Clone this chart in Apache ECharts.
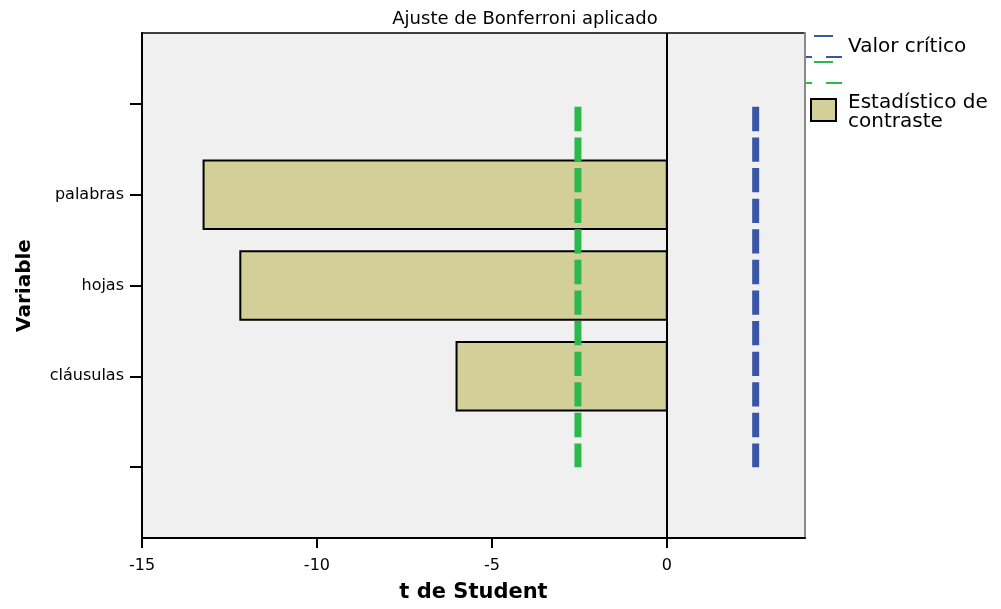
<!DOCTYPE html>
<html><head><meta charset="utf-8">
<script src="https://cdn.jsdelivr.net/npm/echarts@6/dist/echarts.min.js"></script>
<style>html,body{margin:0;padding:0;background:#fff}#c{width:1001px;height:609px}</style>
</head><body><div id="c"></div>
<script>
// ---- data ----
const categories = ['palabras', 'hojas', 'cláusulas'];
const categoryPos = [2, 3, 4];
const tStatistic = [-13.24, -12.19, -6.01];
const criticalValue = 2.54;
const xTickValues = [-15, -10, -5, 0];
const yTickPos = [1, 2, 3, 4, 5];
const critSpan = [1, 5];

const FONT = '"DejaVu Sans", sans-serif';
const BAR_H = 0.755;
const chart = echarts.init(document.getElementById('c'), null, {renderer: 'canvas'});

const barData = categoryPos.map((p, i) => [tStatistic[i], p]);

const option = {
  animation: false,
  backgroundColor: '#ffffff',
  title: {
    text: 'Ajuste de Bonferroni aplicado',
    left: 525, top: 10, padding: 0, textAlign: 'center',
    textStyle: {fontFamily: FONT, fontSize: 18, fontWeight: 'normal', color: '#000'}
  },
  grid: {
    left: 142, right: 196, top: 33, bottom: 71,
    show: true, backgroundColor: '#f0f0f0', borderColor: '#000', borderWidth: 1.5
  },
  xAxis: {
    type: 'value', min: -15, max: 3.95,
    name: 't de Student', nameLocation: 'middle', nameGap: 44,
    nameTextStyle: {fontFamily: FONT, fontSize: 21, fontWeight: 'bold', color: '#000'},
    axisLine: {show: true, onZero: false, lineStyle: {color: '#000', width: 2}},
    axisTick: {show: true, length: 10, customValues: xTickValues, lineStyle: {color: '#000', width: 2}},
    axisLabel: {fontFamily: FONT, fontSize: 16, color: '#000', margin: 20, customValues: xTickValues},
    splitLine: {show: false}
  },
  yAxis: [{
    type: 'value', inverse: true, min: 0.22, max: 5.78,
    name: 'Variable', nameLocation: 'middle', nameGap: 107,
    nameTextStyle: {fontFamily: FONT, fontSize: 20, fontWeight: 'bold', color: '#000'},
    axisLine: {show: true, onZero: false, lineStyle: {color: '#000', width: 2}},
    axisTick: {show: true, length: 12, customValues: yTickPos, lineStyle: {color: '#000', width: 2}},
    axisLabel: {
      fontFamily: FONT, fontSize: 16, color: '#000', margin: 18,
      customValues: categoryPos,
      formatter: v => { const i = categoryPos.indexOf(Math.round(v)); return i >= 0 ? categories[i] : ''; }
    },
    splitLine: {show: false}
  }, {
    type: 'value', inverse: true, min: 0.22, max: 5.78, position: 'right',
    axisLine: {show: true, onZero: false, lineStyle: {color: '#8a8a8a', width: 2}},
    axisTick: {show: false}, axisLabel: {show: false}, splitLine: {show: false}
  }],
  series: [{
    name: 'Estadístico de contraste',
    type: 'custom',
    data: barData,
    encode: {x: 0, y: 1},
    renderItem: function (params, api) {
      const v = api.value(0), y = api.value(1);
      const p0 = api.coord([0, y]);
      const p1 = api.coord([v, y]);
      const h = api.size([0, BAR_H])[1];
      return {
        type: 'rect',
        shape: {x: p1[0], y: p1[1] - h / 2, width: p0[0] - p1[0], height: h},
        style: {fill: '#d3cf99', stroke: '#000', lineWidth: 2}
      };
    },
    markLine: {
      silent: true, symbol: ['none', 'none'], label: {show: false},
      lineStyle: {color: '#000', width: 2, type: 'solid'},
      data: [{xAxis: 0}]
    }
  }, {
    name: 'Valor crítico',
    type: 'line', showSymbol: false, symbol: 'none',
    data: critSpan.map(p => [-criticalValue, p]),
    lineStyle: {color: '#2db84b', width: 7, type: [24.3, 6.3], dashOffset: 27.6, cap: 'butt'}
  }, {
    name: 'Valor crítico',
    type: 'line', showSymbol: false, symbol: 'none',
    data: critSpan.map(p => [criticalValue, p]),
    lineStyle: {color: '#3a55a8', width: 7, type: [24.3, 6.3], dashOffset: 27.6, cap: 'butt'}
  }],
  graphic: [
    {type: 'line', shape: {x1: 814, y1: 36, x2: 833, y2: 36}, style: {stroke: '#3a55a8', lineWidth: 2}},
    {type: 'line', shape: {x1: 805, y1: 57, x2: 812, y2: 57}, style: {stroke: '#3a55a8', lineWidth: 2}},
    {type: 'line', shape: {x1: 826, y1: 57, x2: 842, y2: 57}, style: {stroke: '#3a55a8', lineWidth: 2}},
    {type: 'line', shape: {x1: 814, y1: 62, x2: 833, y2: 62}, style: {stroke: '#2db84b', lineWidth: 2}},
    {type: 'line', shape: {x1: 805, y1: 83, x2: 812, y2: 83}, style: {stroke: '#2db84b', lineWidth: 2}},
    {type: 'line', shape: {x1: 826, y1: 83, x2: 842, y2: 83}, style: {stroke: '#2db84b', lineWidth: 2}},
    {type: 'text', style: {text: 'Valor crítico', x: 848, y: 47, font: '20px ' + FONT, fill: '#000', verticalAlign: 'middle', textVerticalAlign: 'middle'}},
    {type: 'rect', shape: {x: 811, y: 99, width: 25, height: 22}, style: {fill: '#d3cf99', stroke: '#000', lineWidth: 2}},
    {type: 'text', style: {text: 'Estadístico de\ncontraste', x: 848, y: 112, font: '20px ' + FONT, lineHeight: 19, fill: '#000', verticalAlign: 'middle', textVerticalAlign: 'middle'}}
  ]
};
chart.setOption(option);
</script>
</body></html>
